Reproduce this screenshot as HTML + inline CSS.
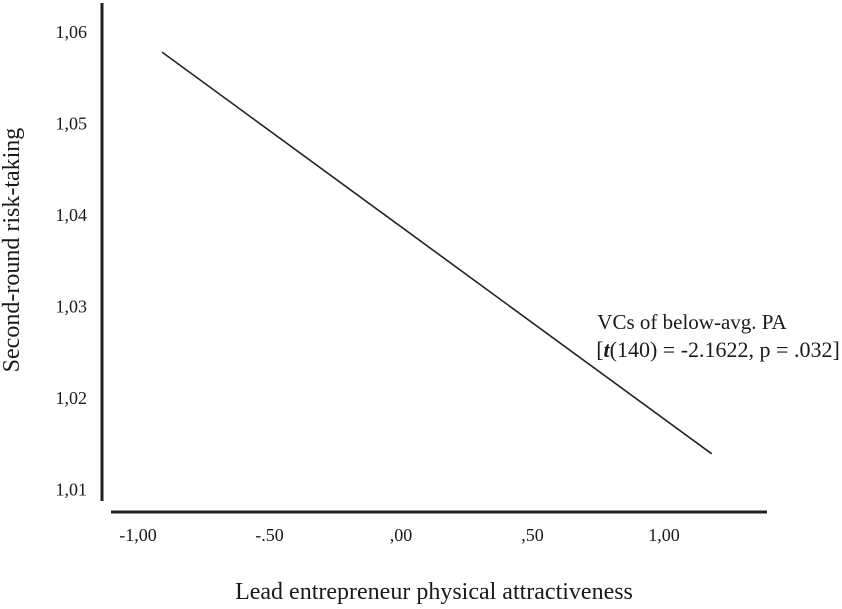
<!DOCTYPE html>
<html><head><meta charset="utf-8"><style>
body{margin:0;background:#fff}
svg text{font-family:"Liberation Serif",serif;fill:#1a1a1a}
</style></head><body>
<svg id="chart" width="842" height="604" viewBox="0 0 842 604">
<line x1="102" y1="3" x2="102" y2="501" stroke="#222" stroke-width="3"/>
<line x1="111" y1="512" x2="767" y2="512" stroke="#222" stroke-width="3"/>
<g id="yt"></g><g id="xt"></g>
<line id="ln" stroke="#222" stroke-width="1.6"/>
<text transform="translate(19,250) rotate(-90)" text-anchor="middle" font-size="24">Second-round risk-taking</text>
<text x="434" y="599" text-anchor="middle" font-size="24">Lead entrepreneur physical attractiveness</text>
<text x="692" y="329" text-anchor="middle" font-size="21">VCs of below-avg. PA</text>
<text x="718" y="357" text-anchor="middle" font-size="22">[<tspan font-style="italic" font-weight="bold">t</tspan>(140) = -2.1622, p = .032]</text>
</svg>
<script>
const yTicks=[1.06,1.05,1.04,1.03,1.02,1.01];
const yLabels=["1,06","1,05","1,04","1,03","1,02","1,01"];
const xTicks=[-1,-0.5,0,0.5,1];
const xLabels=["-1,00","-.50",",00",",50","1,00"];
const lineX=[-0.92,1.17];
const lineY=[1.0578,1.0139];
const ns="http://www.w3.org/2000/svg";
function sx(v){return 404+v*263;}
function sy(v){return 32+(1.06-v)*9150;}
const yt=document.getElementById('yt');
yTicks.forEach((v,i)=>{const t=document.createElementNS(ns,'text');


t.setAttribute('x',87);t.setAttribute('y',sy(v)+6);t.setAttribute('text-anchor','end');t.setAttribute('font-size','18');t.textContent=yLabels[i];yt.appendChild(t);});
const xt=document.getElementById('xt');
xTicks.forEach((v,i)=>{const t=document.createElementNS(ns,'text');


t.setAttribute('x',sx(v)-3);t.setAttribute('y',541);t.setAttribute('text-anchor','middle');t.setAttribute('font-size','18');t.textContent=xLabels[i];xt.appendChild(t);});
const ln=document.getElementById('ln');
ln.setAttribute('x1',sx(lineX[0]));ln.setAttribute('y1',sy(lineY[0]));
ln.setAttribute('x2',sx(lineX[1]));ln.setAttribute('y2',sy(lineY[1]));
</script>
</body></html>
